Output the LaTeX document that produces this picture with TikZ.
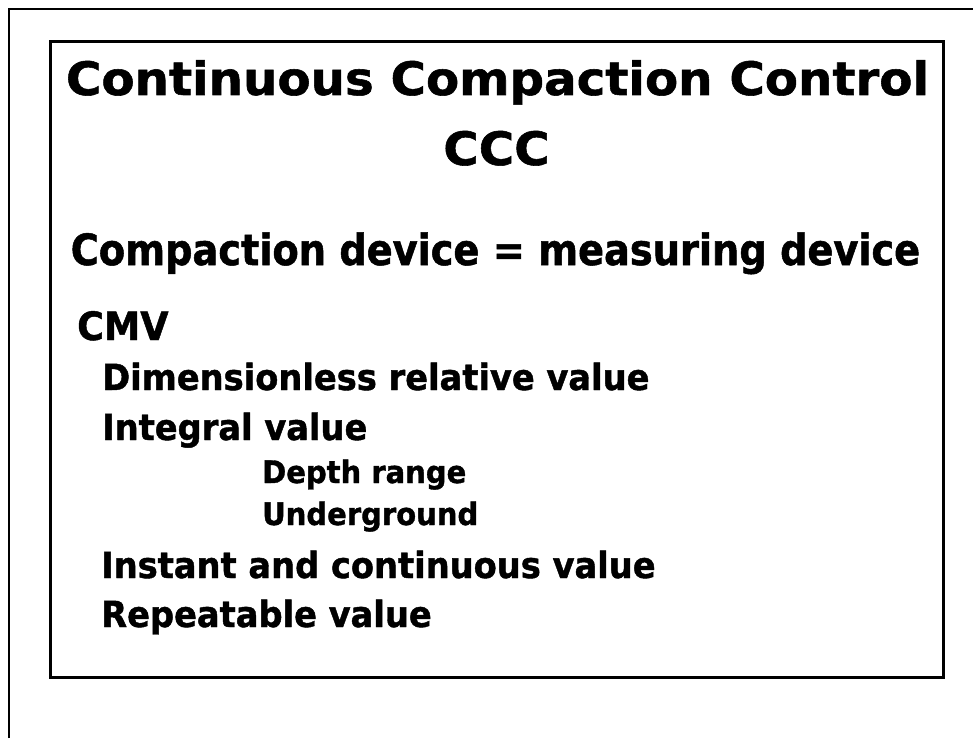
\documentclass[tikz,border=0pt]{standalone}
\usepackage{fontspec}
\setmainfont{DejaVu Sans Condensed}
\newfontfamily\wideface{DejaVu Sans}[FakeStretch=1.05,BoldFeatures={FakeBold=1.2}]
\newfontfamily\leadface{DejaVu Sans Condensed}[FakeStretch=0.99,BoldFeatures={FakeBold=1.2}]
\newfontfamily\bodyface{DejaVu Sans Condensed}[FakeStretch=1.04,BoldFeatures={FakeBold=1.2}]
\begin{document}
\begin{tikzpicture}[x=1pt,y=-1pt,
  heading/.style={inner sep=0pt,anchor=base,font=\wideface\bfseries\fontsize{46}{46}\selectfont},
  lead/.style={inner sep=0pt,anchor=base,font=\leadface\bfseries\fontsize{43}{43}\selectfont},
  item/.style={inner sep=0pt,anchor=base west,font=\bodyface\bfseries\fontsize{#1}{#1}\selectfont},
  item/.default=36,
  subitem/.style={item=31}]
\useasboundingbox (0,0) rectangle (973,738);
% outer page frame (open to the right and bottom)
\draw[line width=2pt] (9,738) -- (9,9) -- (973,9);
% framed text panel
\draw[line width=3pt] (50,42) rectangle (943,677);
\node[heading] (t1) at (497.5,95) {Continuous Compaction Control};
\node[heading] (t2) at (496.5,165) {CCC};
\node[lead] (lead) at (495.5,265) {Compaction device = measuring device};
\node[item=39] (cmv) at (77,340) {CMV};
\node[item] (dim) at (102,390) {Dimensionless relative value};
\node[item] (int) at (102,440) {Integral value};
\node[subitem] (dep) at (262,483) {Depth range};
\node[subitem] (und) at (262,525) {Underground};
\node[item] (ins) at (101,578) {Instant and continuous value};
\node[item] (rep) at (101,627) {Repeatable value};
\end{tikzpicture}
\end{document}
